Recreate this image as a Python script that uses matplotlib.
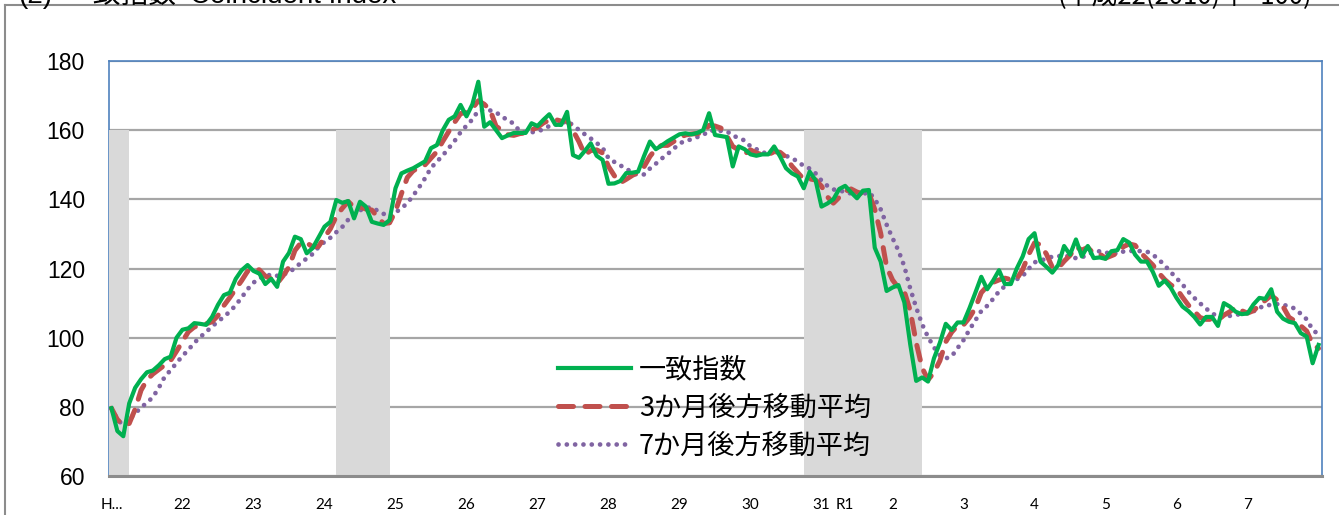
import numpy as np
import pandas as pd
import matplotlib
matplotlib.use("Agg")
import matplotlib.pyplot as plt
from matplotlib.lines import Line2D

# 一致指数 monthly values, from H21(2009).1
coincident = [
    79.6, 73.0, 71.5, 81.0, 85.5, 88.0, 90.0, 90.5, 92.0, 93.8, 94.5, 100.0,
    102.3, 102.7, 104.2, 104.0, 103.7, 106.0, 109.5, 112.3, 113.0, 117.0, 119.5, 121.0,
    119.3, 118.5, 115.5, 117.0, 114.7, 122.0, 124.5, 129.2, 128.5, 124.4, 125.9, 129.0,
    132.1, 133.5, 139.8, 139.0, 139.5, 134.5, 139.3, 137.9, 133.5, 133.0, 132.6, 134.0,
    143.2, 147.5, 148.3, 149.0, 150.0, 151.0, 154.8, 155.7, 160.0, 163.0, 164.0, 167.3,
    164.0, 167.5, 174.0, 161.0, 162.3, 160.0, 157.7, 158.5, 159.2, 159.2, 159.2, 162.0,
    161.2, 163.0, 164.6, 161.6, 161.5, 165.3, 152.8, 152.0, 154.0, 156.2, 152.6, 151.4,
    144.5, 144.6, 145.3, 147.6, 147.7, 148.0, 152.5, 156.7, 154.5, 155.6, 156.8, 157.8,
    158.8, 159.1, 158.8, 159.2, 160.0, 164.9, 158.6, 158.3, 158.0, 149.5, 155.3, 154.5,
    153.0, 152.6, 153.0, 153.0, 155.3, 152.4, 149.0, 147.5, 146.6, 143.2, 148.0, 145.5,
    137.9, 138.8, 140.0, 143.0, 143.9, 142.0, 140.3, 142.5, 142.7, 126.0, 122.0, 113.5,
    114.5, 115.2, 110.2, 98.0, 87.5, 88.5, 87.3, 94.0, 98.5, 104.0, 102.2, 104.4,
    104.4, 108.5, 113.0, 117.6, 114.0, 116.5, 119.5, 115.5, 115.5, 120.0, 123.5, 128.5,
    130.2, 122.0, 120.5, 118.8, 121.0, 126.5, 124.0, 128.4, 123.5, 126.5, 123.0, 123.2,
    122.8, 125.0, 125.3, 128.5, 127.5, 124.0, 122.0, 122.0, 119.0, 115.0, 116.5, 114.5,
    111.5, 109.0, 107.7, 106.0, 103.8, 106.0, 106.0, 103.4, 110.0, 109.0, 107.5, 106.8,
    107.0, 109.6, 111.5, 111.2, 114.0, 107.5, 105.5, 104.6, 104.2, 101.3, 100.3, 92.6,
    97.9,
]

# 3か月後方移動平均
ma3 = [
    79.6, 76.3, 74.7, 75.2, 79.3, 84.8, 87.8, 89.5, 90.8, 92.1, 93.4, 96.1,
    98.9, 101.7, 103.1, 103.6, 104.0, 104.6, 106.4, 109.3, 111.6, 114.1, 116.5, 119.2,
    119.9, 119.6, 117.8, 117.0, 115.7, 117.9, 120.4, 125.2, 127.4, 127.4, 126.3, 126.4,
    129.0, 131.5, 135.1, 137.4, 139.4, 137.7, 137.8, 137.2, 136.9, 134.8, 133.0, 133.2,
    136.6, 141.6, 146.3, 148.3, 149.1, 150.0, 151.9, 153.8, 156.8, 159.6, 162.3, 164.8,
    165.1, 166.3, 168.5, 167.5, 165.8, 161.1, 160.0, 158.7, 158.5, 159.0, 159.2, 160.1,
    160.8, 162.1, 162.9, 163.1, 162.6, 162.8, 159.9, 156.7, 152.9, 154.1, 154.3, 153.4,
    149.5, 146.8, 144.8, 145.8, 146.9, 147.8, 149.4, 152.4, 154.6, 155.6, 155.6, 156.7,
    157.8, 158.6, 158.9, 159.0, 159.3, 161.4, 161.2, 160.6, 158.3, 155.3, 154.3, 153.1,
    154.3, 153.4, 152.9, 152.9, 153.8, 153.6, 152.2, 149.6, 147.7, 145.8, 145.9, 145.6,
    143.8, 140.7, 138.9, 140.6, 142.3, 143.0, 142.1, 141.6, 141.8, 137.1, 130.2, 120.5,
    116.7, 114.4, 113.3, 107.8, 98.6, 91.3, 87.8, 89.9, 93.3, 98.8, 101.6, 103.5,
    103.7, 105.8, 108.6, 113.0, 114.9, 116.0, 116.7, 117.2, 116.8, 117.0, 119.7, 124.0,
    127.4, 126.9, 124.2, 120.4, 120.1, 122.1, 123.8, 126.3, 125.3, 126.1, 124.3, 124.2,
    123.0, 123.7, 124.4, 126.3, 127.1, 126.7, 124.5, 122.7, 121.0, 118.7, 116.8, 115.3,
    114.2, 111.7, 109.4, 107.6, 105.8, 105.3, 105.3, 105.1, 106.5, 107.5, 108.8, 107.8,
    107.1, 107.8, 109.4, 110.8, 112.2, 110.9, 109.0, 105.9, 104.8, 103.4, 101.9, 98.1,
    96.9,
]

# 7か月後方移動平均
ma7 = [
    79.6, 76.3, 74.7, 76.3, 78.1, 79.8, 81.2, 82.8, 85.5, 88.7, 90.6, 92.7,
    94.7, 96.5, 98.5, 100.2, 101.6, 103.3, 104.6, 106.1, 107.5, 109.4, 111.6, 114.0,
    115.9, 117.2, 117.7, 118.3, 117.9, 118.3, 118.8, 120.2, 121.6, 122.9, 124.2, 126.2,
    127.7, 128.9, 130.5, 132.0, 134.1, 135.3, 136.8, 137.6, 137.6, 136.7, 135.8, 135.0,
    136.2, 137.4, 138.9, 141.1, 143.5, 146.1, 149.1, 150.9, 152.7, 154.8, 156.9, 159.4,
    161.3, 163.1, 165.7, 165.8, 165.7, 165.2, 163.8, 163.0, 161.8, 159.7, 159.4, 159.4,
    159.6, 160.3, 161.2, 161.5, 161.9, 162.7, 161.4, 160.1, 158.8, 157.6, 156.3, 154.9,
    151.9, 150.8, 149.8, 148.9, 147.7, 147.0, 147.2, 148.9, 150.3, 151.8, 153.1, 154.6,
    156.1, 157.0, 157.3, 158.0, 158.6, 159.8, 159.9, 159.8, 159.7, 158.4, 157.8, 157.0,
    155.3, 154.5, 153.7, 153.0, 153.8, 153.4, 152.6, 151.8, 151.0, 149.6, 148.9, 147.5,
    145.4, 143.9, 142.9, 142.3, 142.4, 141.6, 140.8, 141.5, 142.1, 140.1, 137.1, 132.7,
    128.8, 125.2, 120.6, 114.2, 108.7, 103.9, 100.2, 97.2, 94.9, 94.0, 94.6, 97.0,
    99.3, 102.3, 105.0, 107.7, 109.2, 111.2, 113.4, 114.9, 115.9, 116.9, 117.8, 119.9,
    121.8, 122.2, 122.9, 123.4, 123.5, 123.9, 123.3, 123.0, 123.2, 124.1, 124.7, 125.0,
    124.5, 124.6, 124.2, 124.9, 125.0, 125.2, 125.0, 124.9, 124.0, 122.6, 120.9, 119.0,
    117.2, 115.4, 113.3, 111.5, 109.9, 108.4, 107.1, 106.0, 106.1, 106.3, 106.5, 107.0,
    107.1, 107.6, 108.8, 108.9, 109.7, 109.7, 109.5, 109.1, 108.4, 106.9, 105.3, 102.3,
    100.9,
]

start_month = "2009-01"
tick_months = ["2009-01", "2010-01", "2011-01", "2012-01", "2013-01", "2014-01",
               "2015-01", "2016-01", "2017-01", "2018-01", "2019-01", "2019-05",
               "2020-01", "2021-01", "2022-01", "2023-01", "2024-01", "2025-01"]
tick_labels = ["H...", "22", "23", "24", "25", "26", "27", "28", "29", "30",
               "31", "R1", "2", "3", "4", "5", "6", "7"]

# shaded periods (景気後退期)
recessions = [("2009-01", "2009-04"), ("2012-03", "2012-12"), ("2018-10", "2020-06")]

months = pd.period_range(start_month, periods=len(coincident), freq="M")
pos = {str(m): i for i, m in enumerate(months)}
x = np.arange(len(coincident))

fig = plt.figure(figsize=(13.39, 5.15), dpi=100)
W, H = 1339, 515
ax = fig.add_axes([108.5 / W, 1 - 476 / H, (1321.5 - 108.5) / W, (476 - 61) / H])

for s, e in recessions:
    x0 = pos[s] if pos[s] > 0 else -0.5
    ax.fill_between([x0, pos[e]], 60, 160, color="#D9D9D9", lw=0, zorder=2.6)

ax.plot(x, ma7, color="#8064A2", lw=3.4, linestyle=(0, (0.01, 1.75)),
        dash_capstyle="round", zorder=4, label="7か月後方移動平均")
ax.plot(x, ma3, color="#C0504D", lw=3.6, linestyle=(0, (3.0, 2.3)),
        dash_capstyle="round", zorder=5, label="3か月後方移動平均")
ax.plot(x, coincident, color="#00B050", lw=3.0, zorder=6, label="一致指数")

ax.set_xlim(-0.5, len(coincident) - 0.5)
ax.set_ylim(60, 180)
ax.set_yticks(range(60, 181, 20))
ax.yaxis.grid(True, color="#A6A6A6", lw=1.6)
ax.set_axisbelow(True)
ax.tick_params(axis="both", length=0)
ax.tick_params(axis="y", pad=17, labelsize=16.5)
ax.tick_params(axis="x", pad=16)
for lab in ax.get_yticklabels():
    lab.set_fontfamily("Liberation Sans")

ax.set_xticks([pos[m] for m in tick_months])
ax.set_xticklabels(tick_labels, fontsize=11, fontfamily="Lato")

for side in ["top", "left", "right"]:
    ax.spines[side].set_color("#4F81BD")
    ax.spines[side].set_linewidth(1.2)
ax.spines["bottom"].set_color("#8C8C8C")
ax.spines["bottom"].set_linewidth(2.2)
ax.spines["bottom"].set_zorder(3)

handles, labels = ax.get_legend_handles_labels()
leg = fig.legend(handles[::-1], labels[::-1], loc="center left",
                 bbox_to_anchor=(558 / W, 1 - 408 / H), frameon=False,
                 prop={"family": "Noto Sans CJK JP", "size": 19.5},
                 handlelength=2.7, handletextpad=0.28, labelspacing=0.42,
                 borderpad=0, borderaxespad=0)

# outer frame and the heading cut off at the top
fig.add_artist(Line2D([5 / W, 1], [1 - 5 / H, 1 - 5 / H], color="#8C8C8C", lw=1.5))
fig.add_artist(Line2D([5 / W, 5 / W], [0, 1 - 5 / H], color="#8C8C8C", lw=1.5))
jp = ["Noto Sans CJK JP", "DejaVu Sans"]
fig.text(18 / W, 1 - 3 / H, "(2)", fontsize=20, family="Liberation Sans", va="baseline")
fig.text(66 / W, 1 - 3 / H, "一致指数", fontsize=20, family=jp, va="baseline")
fig.text(190 / W, 1 - 3 / H, "Coincident Index", fontsize=20,
         family="Liberation Sans", va="baseline")
fig.text(1312 / W, 1 - 3 / H, "(平成22(2010)年=100)", fontsize=18.5, family=jp,
         va="baseline", ha="right")

fig.savefig("out.png", dpi=100)
